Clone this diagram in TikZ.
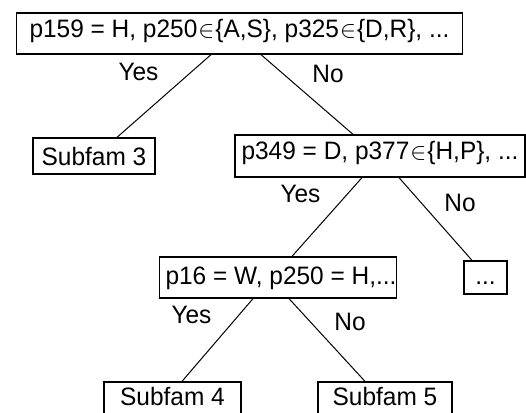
\documentclass[tikz,border=0pt]{standalone}
\usepackage{fontspec}
\setmainfont{Liberation Sans}[FakeStretch=0.97]
\usetikzlibrary{calc}
\newcommand{\smallin}{\hspace{0.5pt}{\fontsize{11.5}{11.5}\selectfont$\in$}\hspace{0.5pt}}
\begin{document}
\begin{tikzpicture}[x=0.5pt,y=-0.5pt,
  font=\fontsize{12.6}{15}\selectfont,
  box/.style={draw,line width=0.65pt,inner xsep=0pt,inner ysep=0pt,anchor=base},
  edge/.style={line width=0.5pt},
  lbl/.style={anchor=base,inner sep=0pt}]
\useasboundingbox (0,0) rectangle (526,413);
\clip (0,0) rectangle (526,413);
\fill[white] (0,0) rectangle (526,413);
% nodes
\node[box,minimum width=223pt,text height=12.35pt,text depth=8.15pt] (root) at (239.5,37.7)
  {p159 = H, p250\smallin\{A,S\}, p325\smallin\{D,R\}, ...};
\node[box,minimum width=61pt,text height=13.5pt,text depth=4.5pt] (s3) at (94,165) {Subfam 3};
\node[box,minimum width=145pt,text height=12.15pt,text depth=8.85pt] (n2) at (380,159.3)
  {p349 = D, p377\smallin\{H,P\}, ...};
\node[box,minimum width=118pt,text height=13.5pt,text depth=7pt] (n3) at (278,284)
  {\hspace{3pt}p16 = W, p250 = H,...};
\node[box,minimum width=21.5pt,text height=11.5pt,text depth=5pt] (dots) at (485.5,284) {...};
\node[box,minimum width=68.5pt,text height=11.5pt,text depth=9pt] (s4) at (172.5,405) {Subfam 4};
\node[box,minimum width=67pt,text height=11.5pt,text depth=9pt] (s5) at (385,405) {Subfam 5};
% connectors
\draw[edge] ($(root.south)+(-28.5,0)$) -- ($(s3.north)+(23,0)$);
\draw[edge] ($(root.south)+(21.5,0)$) -- ($(n2.north)+(-27,0)$);
\draw[edge] ($(n2.south)+(-18,0)$) -- ($(n3.north)+(14,0)$);
\draw[edge] ($(n2.south)+(19,0)$) -- ($(dots.north)+(-13.5,0)$);
\draw[edge] ($(n3.south)+(-25,0)$) -- ($(s4.north)+(9.5,0)$);
\draw[edge] ($(n3.south)+(11,0)$) -- ($(s5.north)+(-20,0)$);
% labels
\node[lbl] (y1) at (138.5,80) {Yes};
\node[lbl] (n1) at (328,82) {No};
\node[lbl] (y2) at (300.5,202) {Yes};
\node[lbl] (no2) at (460,211) {No};
\node[lbl] (y3) at (191.5,323) {Yes};
\node[lbl] (no3) at (350,330) {No};
\end{tikzpicture}
\end{document}
